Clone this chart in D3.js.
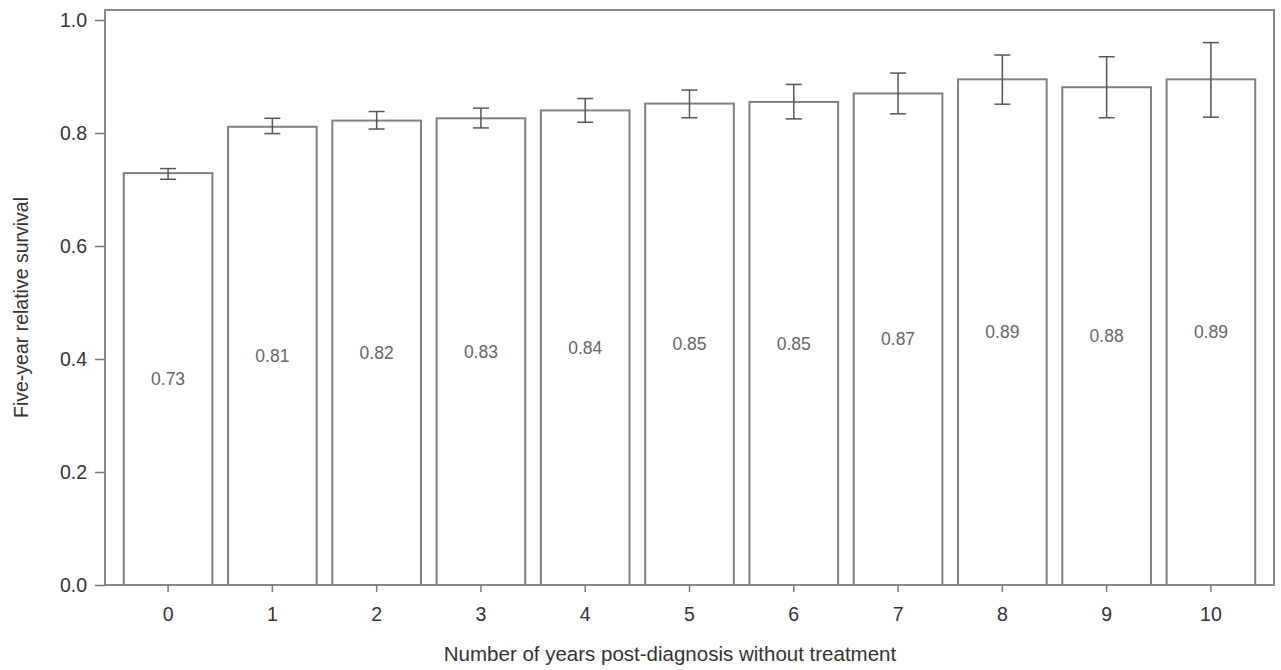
<!DOCTYPE html>
<html>
<head>
<meta charset="utf-8">
<script src="https://cdn.jsdelivr.net/npm/d3@7"></script>
<style>
  body { margin: 0; background: #fff; }
  text { font-family: "Liberation Sans", Arial, sans-serif; }
</style>
</head>
<body>
<svg id="chart"></svg>
<script>
const years = ["0", "1", "2", "3", "4", "5", "6", "7", "8", "9", "10"]
const survival = [0.729, 0.811, 0.822, 0.826, 0.840, 0.852, 0.855, 0.870, 0.895, 0.881, 0.895]
const lowerCI = [0.718, 0.799, 0.807, 0.809, 0.819, 0.827, 0.825, 0.834, 0.851, 0.827, 0.828]
const upperCI = [0.737, 0.826, 0.838, 0.844, 0.861, 0.876, 0.886, 0.906, 0.938, 0.935, 0.960]
const valueLabels = ["0.73", "0.81", "0.82", "0.83", "0.84", "0.85", "0.85", "0.87", "0.89", "0.88", "0.89"]
const yTicks = [0, 0.2, 0.4, 0.6, 0.8, 1.0]

const width = 1281
const height = 670
const plot = { left: 105, right: 1274, top: 10, bottom: 585 }

const svg = d3.select("#chart").attr("width", width).attr("height", height)

const x = d3.scaleBand()
    .domain(years)
    .range([plot.left, plot.right])
    .paddingInner(0.15)
    .paddingOuter(0.18)

const y = d3.scaleLinear()
    .domain([0, 1])
    .range([plot.bottom, 20])

const rows = years.map((yr, i) => ({
    yr, v: survival[i], lo: lowerCI[i], hi: upperCI[i], label: valueLabels[i]
}))

// bars
svg.append("g")
    .selectAll("rect")
    .data(rows)
    .join("rect")
    .attr("x", d => x(d.yr))
    .attr("y", d => y(d.v))
    .attr("width", x.bandwidth())
    .attr("height", d => y(0) - y(d.v))
    .attr("fill", "#fff")
    .attr("stroke", "#808080")
    .attr("stroke-width", 2)

// value labels in middle of bar
svg.append("g")
    .selectAll("text")
    .data(rows)
    .join("text")
    .attr("x", d => x(d.yr) + x.bandwidth() / 2)
    .attr("y", d => (y(d.v) + y(0)) / 2)
    .attr("dy", "0.35em")
    .attr("text-anchor", "middle")
    .attr("font-size", 17.5)
    .attr("fill", "#666")
    .text(d => d.label)

// error bars
const cap = 8
const err = svg.append("g").attr("stroke", "#555").attr("stroke-width", 1.5)
rows.forEach(d => {
    const cx = x(d.yr) + x.bandwidth() / 2
    err.append("line").attr("x1", cx).attr("x2", cx).attr("y1", y(d.lo)).attr("y2", y(d.hi))
    err.append("line").attr("x1", cx - cap).attr("x2", cx + cap).attr("y1", y(d.lo)).attr("y2", y(d.lo))
    err.append("line").attr("x1", cx - cap).attr("x2", cx + cap).attr("y1", y(d.hi)).attr("y2", y(d.hi))
})

// frame
svg.append("rect")
    .attr("x", plot.left)
    .attr("y", plot.top)
    .attr("width", plot.right - plot.left)
    .attr("height", plot.bottom - plot.top)
    .attr("fill", "none")
    .attr("stroke", "#888")
    .attr("stroke-width", 2)

// axes
const yAxis = svg.append("g")
    .attr("transform", `translate(${plot.left},0)`)
    .call(d3.axisLeft(y).tickValues(yTicks).tickFormat(d3.format(".1f")).tickSize(10).tickPadding(8))
const xAxis = svg.append("g")
    .attr("transform", `translate(0,${plot.bottom})`)
    .call(d3.axisBottom(x).tickSize(7).tickPadding(15))

;[yAxis, xAxis].forEach(a => {
    a.select(".domain").remove()
    a.selectAll("line").attr("stroke", "#777").attr("stroke-width", 1.5)
    a.selectAll("text").attr("font-size", 19.5).attr("fill", "#333")
        .attr("font-family", "'Liberation Sans', Arial, sans-serif")
})

// axis titles
svg.append("text")
    .attr("transform", `translate(21,${(plot.top + plot.bottom) / 2 + 10}) rotate(-90)`)
    .attr("text-anchor", "middle")
    .attr("dy", "0.35em")
    .attr("font-size", 19.5)
    .attr("fill", "#333")
    .text("Five-year relative survival")

svg.append("text")
    .attr("x", 670)
    .attr("y", 661)
    .attr("text-anchor", "middle")
    .attr("font-size", 20.5)
    .attr("fill", "#333")
    .text("Number of years post-diagnosis without treatment")
</script>
</body>
</html>
